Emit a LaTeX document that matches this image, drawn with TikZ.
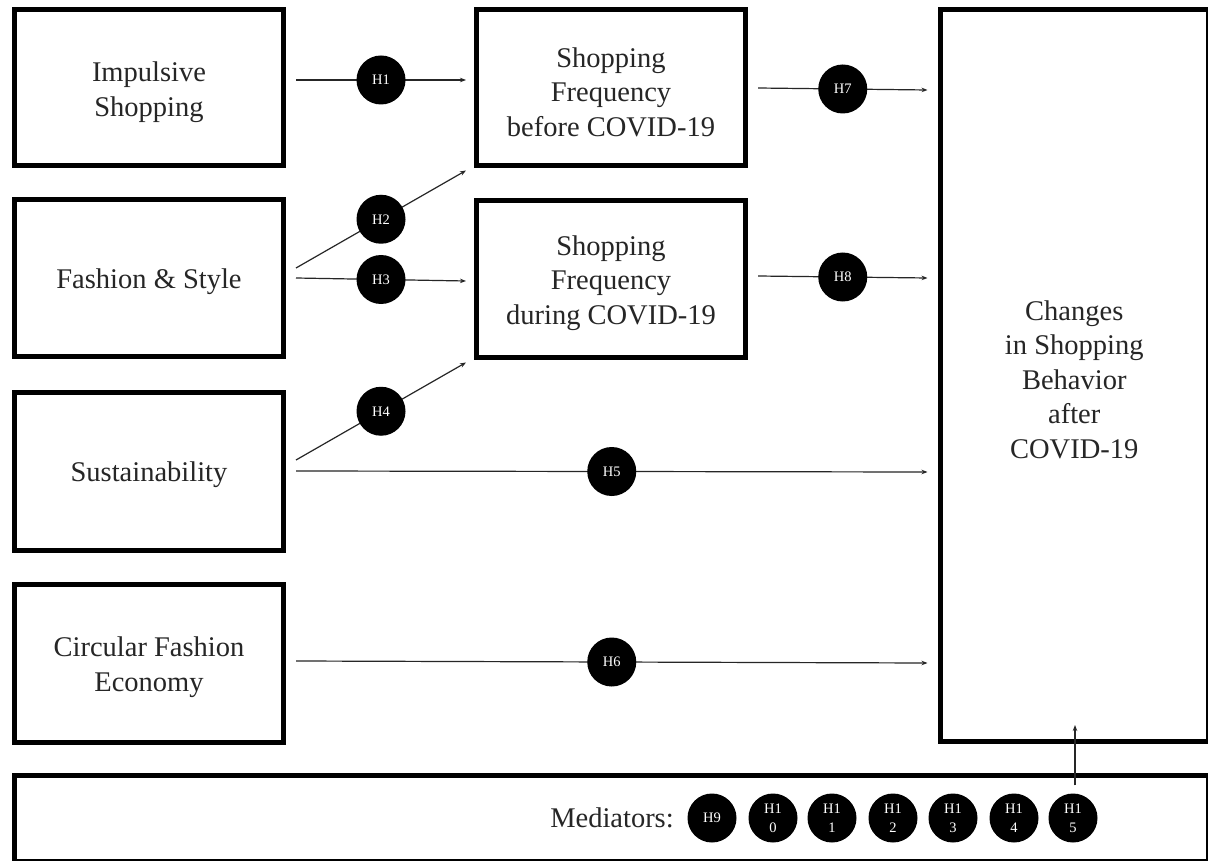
\documentclass[tikz,border=0pt]{standalone}
\usepackage{fontspec}
\setmainfont{Liberation Serif}
\usetikzlibrary{arrows.meta,calc}
\begin{document}
\begin{tikzpicture}[x=1pt,y=-1pt,
  box/.style={draw=black, line width=5pt, minimum width=269pt, minimum height=156pt,
    inner sep=0pt},
  txt/.style={font=\fontsize{28.5}{34.5}\selectfont, text=black!85, inner sep=0pt,
    align=center, yshift=-4pt},
  hyp/.style={circle, fill=black, minimum size=49pt, inner sep=0pt, text=white,
    font=\fontsize{14.5}{19}\selectfont, align=center},
  conn/.style={line width=1.2pt, draw=black!85, -{Stealth[length=6pt,width=4.5pt]}},
  lbl/.style={font=\fontsize{28.5}{34.5}\selectfont, text=black!85, inner sep=0pt}]
\useasboundingbox (0,0) rectangle (1208,861);
\fill[white] (0,0) rectangle (1208,861);

% boxes
\node[box, label={[txt]center:Impulsive\\Shopping}] (imp) at (149,88) {};
\node[box, label={[txt]center:Fashion \& Style}] (fas) at (149,278) {};
\node[box, minimum height=158pt, label={[txt]center:Sustainability}] (sus) at (149,471) {};
\node[box, minimum height=158pt, label={[txt]center:Circular Fashion\\Economy}] (cir) at (149,663) {};
\node[box, label={[txt]center:Shopping\\Frequency\\before COVID-19}] (bef) at (611,88) {};
\node[box, label={[txt]center:Shopping\\Frequency\\during COVID-19}] (dur) at (611,279) {};
\node[box, minimum width=268.5pt, minimum height=732pt,
  label={[txt]center:Changes\\in Shopping\\Behavior\\after\\COVID-19}] (chg) at (1074.25,375.5) {};
\node[box, minimum width=1194pt, minimum height=85.5pt] (med) at (611.5,818.25) {};

% connectors with hypotheses
\draw[conn] ($(imp.east)+(10,-8)$) -- node[hyp]{H1} ($(bef.west)+(-8,-8)$);
\draw[conn] ($(fas.east)+(10,-10)$) -- node[hyp]{H2} ($(bef.south west)+(-8,2)$);
\draw[conn] ($(fas.east)+(10,0)$) -- node[hyp]{H3} ($(dur.west)+(-8,2)$);
\draw[conn] ($(sus.east)+(10,-11)$) -- node[hyp]{H4} ($(dur.south west)+(-8,3)$);
\draw[conn] ($(sus.east)+(10,0)$) -- node[hyp]{H5} ($(sus.east -| chg.west)+(-10,1)$);
\draw[conn] ($(cir.east)+(10,-2)$) -- node[hyp]{H6} ($(cir.east -| chg.west)+(-10,0)$);
\draw[conn] ($(bef.east)+(10,0)$) -- node[hyp]{H7} ($(bef.east -| chg.west)+(-10,2)$);
\draw[conn] ($(dur.east)+(10,-3)$) -- node[hyp]{H8} ($(dur.east -| chg.west)+(-10,-1)$);

% mediators
\node[lbl] (medlab) at (612,818) {Mediators:};
\node[hyp] (h9) at (712,818) {H9};
\node[hyp] (h10) at (773,818) {H1\\0};
\node[hyp] (h11) at (832,818) {H1\\1};
\node[hyp] (h12) at (893,818) {H1\\2};
\node[hyp] (h13) at (953,818) {H1\\3};
\node[hyp] (h14) at (1014,818) {H1\\4};
\node[hyp] (h15) at (1073,818) {H1\\5};
\draw[conn] ($(h15.north)+(2,-8)$) -- ($(h15.north |- chg.south)+(2,-19)$);
\end{tikzpicture}
\end{document}
